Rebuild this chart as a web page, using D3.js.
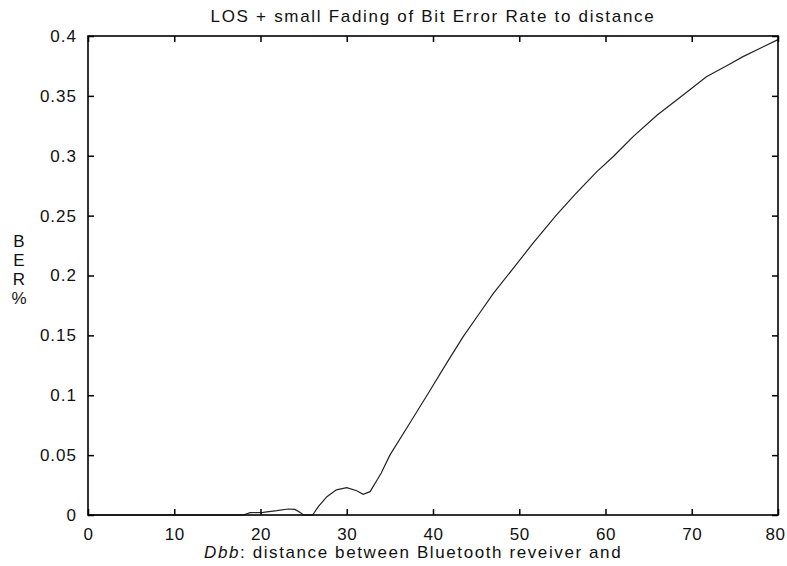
<!DOCTYPE html>
<html>
<head>
<meta charset="utf-8">
<script src="https://cdn.jsdelivr.net/npm/d3@7"></script>
<style>
  html, body { margin: 0; padding: 0; background: #fff; }
  svg { display: block; }
  text { font-family: "Liberation Sans", Arial, Helvetica, sans-serif; fill: #111; }
</style>
</head>
<body>
<svg id="chart" width="787" height="566"></svg>
<script>
// ---- data ----
const distance = [0, 5, 10, 15, 18.0, 18.4, 18.8, 20.3, 21.9, 23.2, 24.0, 24.6, 25.0,
  26.05, 26.7, 27.7, 28.8, 30.0, 31.15, 31.9, 32.7, 33.5, 34.0, 35.0, 37.3, 39.65,
  41.6, 43.5, 45.25, 47.0, 49.3, 51.6, 54.3, 56.5, 59.0, 61.0, 63.2, 66.0, 69.0,
  71.7, 74.0, 76.0, 78.0, 80];
const ber = [0, 0, 0, 0, 0, 0.001, 0.002, 0.0022, 0.0036, 0.005, 0.0047, 0.002, 0,
  0, 0.007, 0.0153, 0.021, 0.0228, 0.0203, 0.0173, 0.0195, 0.029, 0.035, 0.050,
  0.0766, 0.104, 0.127, 0.149, 0.167, 0.185, 0.206, 0.227, 0.2505, 0.268, 0.2867,
  0.300, 0.316, 0.334, 0.3507, 0.366, 0.375, 0.383, 0.390, 0.397];
const xTicks = [0, 10, 20, 30, 40, 50, 60, 70, 80];
const yTicks = [0, 0.05, 0.1, 0.15, 0.2, 0.25, 0.3, 0.35, 0.4];
const titleText = "LOS + small Fading of Bit Error Rate to distance";
const xLabelItalic = "Dbb";
const xLabelRest = ": distance between Bluetooth reveiver and";
const yLabelLines = ["B", "E", "R", "%"];

// ---- layout ----
const svg = d3.select("#chart");
const L = 88, R = 778, T = 36, B = 515;
const x = d3.scaleLinear().domain([0, 80]).range([L, R]);
const y = d3.scaleLinear().domain([0, 0.4]).range([B, T]);
const tickLen = 6;

// curve
const line = d3.line().x((d, i) => x(distance[i])).y(d => y(d));
svg.append("path")
  .datum(ber)
  .attr("d", line)
  .attr("fill", "none")
  .attr("stroke", "#222")
  .attr("stroke-width", 1.2);

// axes (inward ticks, MATLAB style box)
function styleAxis(g, spacing) {
  g.select(".domain").remove();
  g.selectAll(".tick line").attr("stroke", "#000").attr("stroke-width", 1.5);
  g.selectAll(".tick text")
    .attr("font-size", 17)
    .attr("letter-spacing", spacing + "px")
    .attr("fill", "#111");
}
const fmtY = d => d3.format("~g")(d);
const gx = svg.append("g").attr("transform", `translate(0,${B})`)
  .call(d3.axisBottom(x).tickValues(xTicks).tickSize(-tickLen).tickPadding(13).tickFormat(d3.format("d")))
  .call(styleAxis, 0.5);
// keep the last label inside the page
gx.selectAll(".tick text").filter(d => d === xTicks[xTicks.length - 1]).attr("dx", -3);
svg.append("g").attr("transform", `translate(0,${T})`)
  .call(d3.axisTop(x).tickValues(xTicks).tickSize(-tickLen).tickFormat(""))
  .call(styleAxis, 0);
svg.append("g").attr("transform", `translate(${L},0)`)
  .call(d3.axisLeft(y).tickValues(yTicks).tickSize(-tickLen).tickPadding(11).tickFormat(fmtY))
  .call(styleAxis, 1);
svg.append("g").attr("transform", `translate(${R},0)`)
  .call(d3.axisRight(y).tickValues(yTicks).tickSize(-tickLen).tickFormat(""))
  .call(styleAxis, 0);

// frame
svg.append("rect")
  .attr("x", L).attr("y", T).attr("width", R - L).attr("height", B - T)
  .attr("fill", "none").attr("stroke", "#000").attr("stroke-width", 1.6);

// title
svg.append("text")
  .attr("x", (L + R) / 2).attr("y", 22)
  .attr("text-anchor", "middle")
  .attr("font-size", 17)
  .attr("letter-spacing", "1.7px")
  .text(titleText);

// x label
const xl = svg.append("text")
  .attr("x", 204).attr("y", 558)
  .attr("font-size", 17)
  .attr("letter-spacing", "1.6px");
xl.append("tspan").attr("font-style", "italic").text(xLabelItalic);
xl.append("tspan").text(xLabelRest);

// y label (stacked letters)
svg.append("g").selectAll("text")
  .data(yLabelLines)
  .join("text")
  .attr("x", 19)
  .attr("y", (d, i) => 247 + i * 19)
  .attr("text-anchor", "middle")
  .attr("font-size", 17)
  .text(d => d);
</script>
</body>
</html>
